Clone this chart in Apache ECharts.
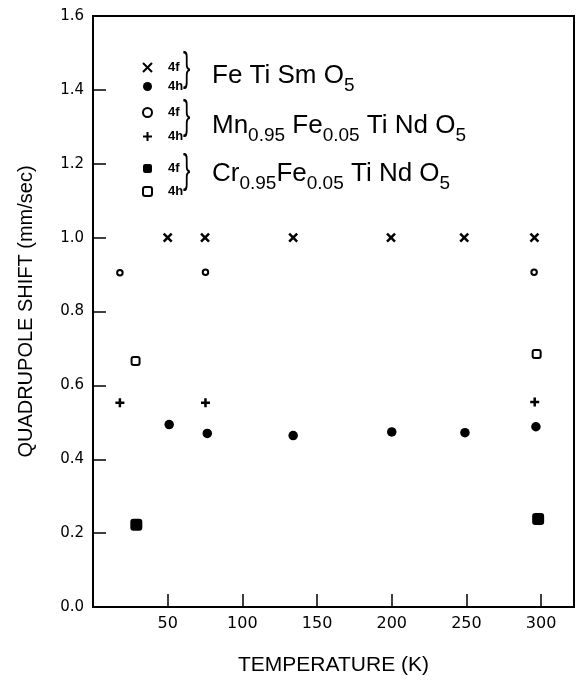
<!DOCTYPE html>
<html>
<head>
<meta charset="utf-8">
<script src="https://cdn.jsdelivr.net/npm/echarts@6/dist/echarts.min.js"></script>
<style>
  html, body { margin: 0; padding: 0; background: #fff; }
  #main { width: 577px; height: 681px; }
</style>
</head>
<body>
<div id="main"></div>
<script>
var chart = echarts.init(document.getElementById('main'));

// temperature (K), quadrupole shift (mm/sec)
var feTiSm4f = [[50, 1.0], [75, 1.0], [134, 1.0], [199.5, 1.0], [248.5, 1.0], [295.5, 1.0]];
var feTiSm4h = [[51, 0.494], [76.5, 0.470], [134, 0.464], [200, 0.474], [249, 0.472], [296.5, 0.488]];
var mnFe4f = [[18, 0.905], [75.3, 0.906], [295.3, 0.906]];
var mnFe4h = [[18, 0.553], [75.3, 0.553], [295.7, 0.555]];
var crFe4f = [[29, 0.223], [298, 0.238]];
var crFe4h = [[28.5, 0.666], [297, 0.685]];

var xTicks = [50, 100, 150, 200, 250, 300];

var crossPath = 'path://M0,0L10,10M10,0L0,10';
var plusPath = 'path://M5,0L5,10M0,5L10,5';

var font = 'Liberation Sans';
var mainRich = {
    m: { fontSize: 26, fontFamily: font, lineHeight: 30, color: '#000' },
    s: { fontSize: 19, fontFamily: font, lineHeight: 30, color: '#000', padding: [19, 0, 0, 0] }
};

function legendRow(names, top, gap) {
    return {
        data: names,
        orient: 'vertical',
        left: 137,
        top: top,
        itemWidth: 9,
        itemHeight: 9,
        itemGap: gap,
        selectedMode: false,
        formatter: function (n) { return n.slice(-2); },
        textStyle: { fontSize: 13, fontWeight: 'bold', fontFamily: font, color: '#000', lineHeight: 12, padding: [0, 0, 0, 11] }
    };
}

function brace(top) {
    return {
        type: 'text', left: 183, top: top, scaleX: 0.55,
        style: { text: '}', fontSize: 40, fontFamily: font, fill: '#000' }
    };
}

var option = {
    animation: false,
    grid: { left: 93, right: 3, top: 16, bottom: 70, show: true, borderColor: '#000', borderWidth: 2 },
    xAxis: {
        type: 'value', min: 0, max: 322, interval: 50,
        name: 'TEMPERATURE (K)', nameLocation: 'middle', nameGap: 48,
        nameTextStyle: { fontSize: 21, fontFamily: font, color: '#000' },
        axisLine: { lineStyle: { color: '#000', width: 2 } },
        axisTick: { inside: true, length: 13, lineStyle: { color: '#000', width: 1.5 } },
        axisLabel: {
            fontSize: 16, fontFamily: 'DejaVu Sans', color: '#000', margin: 9,
            showMaxLabel: false,
            formatter: function (v) { return xTicks.indexOf(v) >= 0 ? String(v) : ''; }
        },
        splitLine: { show: false }
    },
    yAxis: {
        type: 'value', min: 0, max: 1.6, interval: 0.2,
        name: 'QUADRUPOLE SHIFT (mm/sec)', nameLocation: 'middle', nameGap: 57,
        nameTextStyle: { fontSize: 20, fontFamily: font, color: '#000' },
        axisLine: { lineStyle: { color: '#000', width: 2 } },
        axisTick: { inside: true, length: 13, lineStyle: { color: '#000', width: 1.5 } },
        axisLabel: {
            fontSize: 15, fontFamily: 'DejaVu Sans', color: '#000', margin: 9,
            formatter: function (v) { return v.toFixed(1); }
        },
        splitLine: { show: false }
    },
    legend: [
        legendRow(['FeTiSmO5 4f', 'FeTiSmO5 4h'], 56, 6),
        legendRow(['MnFeTiNdO5 4f', 'MnFeTiNdO5 4h'], 101, 11),
        legendRow(['CrFeTiNdO5 4f', 'CrFeTiNdO5 4h'], 157, 10)
    ],
    graphic: [
        brace(50), brace(98), brace(152),
        { type: 'text', left: 212, top: 57, style: { text: '{m|Fe Ti Sm O}{s|5}', rich: mainRich } },
        { type: 'text', left: 212, top: 107, style: { text: '{m|Mn}{s|0.95}{m| Fe}{s|0.05}{m| Ti Nd O}{s|5}', rich: mainRich } },
        { type: 'text', left: 212, top: 155, style: { text: '{m|Cr}{s|0.95}{m|Fe}{s|0.05}{m| Ti Nd O}{s|5}', rich: mainRich } }
    ],
    series: [
        { name: 'FeTiSmO5 4f', type: 'scatter', data: feTiSm4f, symbol: crossPath, symbolSize: 8,
          itemStyle: { color: '#000', borderColor: '#000', borderWidth: 2.5, opacity: 1 } },
        { name: 'FeTiSmO5 4h', type: 'scatter', data: feTiSm4h, symbol: 'circle', symbolSize: 9.5,
          itemStyle: { color: '#000', opacity: 1 } },
        { name: 'MnFeTiNdO5 4f', type: 'scatter', data: mnFe4f, symbol: 'circle', symbolSize: 5.5,
          itemStyle: { color: '#fff', borderColor: '#000', borderWidth: 2, opacity: 1 } },
        { name: 'MnFeTiNdO5 4h', type: 'scatter', data: mnFe4h, symbol: plusPath, symbolSize: 9,
          itemStyle: { color: '#000', borderColor: '#000', borderWidth: 2.5, opacity: 1 } },
        { name: 'CrFeTiNdO5 4f', type: 'scatter', data: crFe4f, symbol: 'roundRect', symbolSize: 12,
          itemStyle: { color: '#000', opacity: 1 } },
        { name: 'CrFeTiNdO5 4h', type: 'scatter', data: crFe4h, symbol: 'roundRect', symbolSize: 8,
          itemStyle: { color: '#fff', borderColor: '#000', borderWidth: 2, opacity: 1 } }
    ]
};

chart.setOption(option);
</script>
</body>
</html>
